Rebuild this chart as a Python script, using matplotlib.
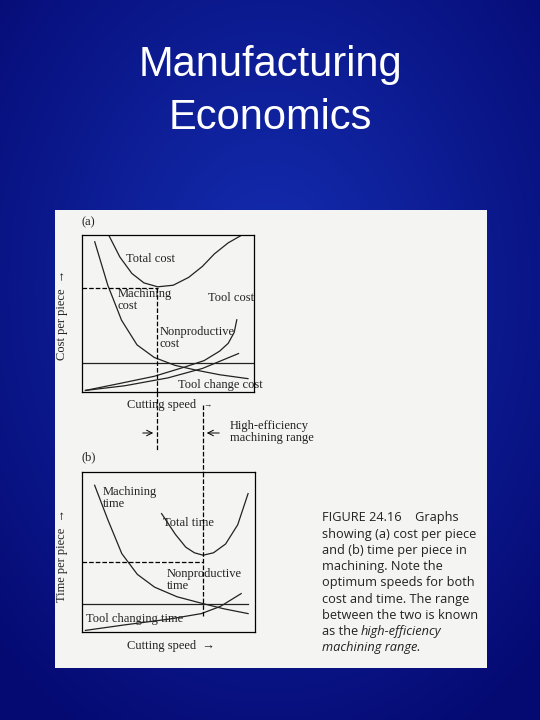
import numpy as np
import matplotlib.pyplot as plt

W, H = 540, 720

# curve samples, axes fraction coords (x, y)
mach_cost = [(.074, .957), (.15, .68), (.23, .457), (.32, .30), (.42, .22), (.54, .17), (.66, .14), (.80, .11), (.965, .085)]
tool_cost = [(.02, .01), (.20, .05), (.42, .10), (.60, .16), (.71, .20), (.80, .26), (.85, .31), (.885, .38), (.90, .46)]
toolchg_cost = [(.02, .01), (.25, .04), (.50, .09), (.70, .15), (.91, .245)]
nonprod_cost = [(0, .187), (1, .187)]
total_cost = [(.155, 1.0), (.22, .86), (.29, .755), (.36, .695), (.44, .67), (.53, .68), (.62, .73), (.70, .80), (.77, .88), (.85, .95), (.93, 1.0)]

mach_time = [(.073, .917), (.15, .70), (.23, .49), (.32, .36), (.42, .28), (.55, .22), (.69, .18), (.82, .145), (.96, .115)]
total_time = [(.46, .74), (.54, .61), (.60, .53), (.65, .495), (.70, .48), (.76, .495), (.83, .55), (.90, .67), (.96, .865)]
nonprod_time = [(0, .177), (.96, .177)]
toolchg_time = [(.02, .01), (.25, .045), (.50, .08), (.69, .115), (.80, .16), (.92, .24)]

fig = plt.figure(figsize=(5.4, 7.2), dpi=100)

# background
bg = fig.add_axes([0, 0, 1, 1])
yy, xx = np.mgrid[0:1:200j, 0:1:200j]
r = np.sqrt((xx - 0.5) ** 2 + (yy - 0.4) ** 2)
grad = np.clip(1 - r * 1.4, 0, 1)
img = np.zeros((200, 200, 3))
img[..., 0] = 0.02 + 0.06 * grad
img[..., 1] = 0.04 + 0.14 * grad
img[..., 2] = 0.45 + 0.25 * grad
bg.imshow(img, extent=[0, W, H, 0], aspect='auto')
bg.set_xlim(0, W)
bg.set_ylim(H, 0)
bg.axis('off')

bg.text(270, 65, "Manufacturing", color='white', fontsize=30, ha='center', va='center', family='Liberation Sans')
bg.text(270, 118, "Economics", color='white', fontsize=30, ha='center', va='center', family='Liberation Sans')

bg.add_patch(plt.Rectangle((55, 210), 432, 458, facecolor='#f4f4f2', edgecolor='none'))

serif = 'Liberation Serif'
def t(x, y, s, size=9, **kw):
    bg.text(x, y, s, fontsize=size, family=serif, color='#222222', va='center', linespacing=1.0, **kw)

t(82, 222, "(a)")
t(82, 457, "(b)")
t(62, 315, "Cost per piece  \u2192", rotation=90, ha='center')
t(62, 555, "Time per piece  \u2192", rotation=90, ha='center')
t(126, 259, "Total cost")
t(118, 300, "Machining\ncost")
t(208, 298, "Tool cost")
t(160, 338, "Nonproductive\ncost")
t(178, 385, "Tool change cost")
t(127, 405, "Cutting speed")
t(203, 405, "\u2192", size=6)
t(230, 432, "High-efficiency\nmachining range")
t(103, 498, "Machining\ntime")
t(163, 523, "Total time")
t(167, 580, "Nonproductive\ntime")
t(86, 619, "Tool changing time")
t(127, 646, "Cutting speed  \u2192")

# dashed guides in figure
bg.plot([157, 157], [392, 450], 'k--', lw=0.9)
bg.plot([203, 203], [405, 472], 'k--', lw=0.9)
bg.annotate('', xy=(156, 433), xytext=(140, 433), arrowprops=dict(arrowstyle='->', lw=0.7))
bg.annotate('', xy=(204, 433), xytext=(222, 433), arrowprops=dict(arrowstyle='->', lw=0.7))

cap = ["FIGURE 24.16    Graphs", "showing (a) cost per piece", "and (b) time per piece in",
       "machining. Note the", "optimum speeds for both", "cost and time. The range",
       "between the two is known"]
cs = 9.2
for i, line in enumerate(cap):
    bg.text(322, 518 + i * 16.2, line, fontsize=cs, family='Open Sans', color='#222222', va='center')
bg.text(322, 518 + 7 * 16.2, "as the", fontsize=cs, family='Open Sans', color='#222222', va='center')
bg.text(361, 518 + 7 * 16.2, "high-efficiency", fontsize=cs, family='Open Sans', style='italic', color='#222222', va='center')
bg.text(322, 518 + 8 * 16.2, "machining range.", fontsize=cs, family='Open Sans', style='italic', color='#222222', va='center')

def axes_px(x0, y0, x1, y1):
    a = fig.add_axes([x0 / W, 1 - y1 / H, (x1 - x0) / W, (y1 - y0) / H])
    a.set_xlim(0, 1)
    a.set_ylim(0, 1)
    a.set_xticks([])
    a.set_yticks([])
    a.patch.set_alpha(0)
    for s in a.spines.values():
        s.set_linewidth(0.9)
    return a

def curve(a, pts, **kw):
    p = np.array(pts)
    a.plot(p[:, 0], p[:, 1], color='#222222', lw=0.9, **kw)

ax1 = axes_px(82, 235, 254, 392)
for c in [mach_cost, tool_cost, toolchg_cost, nonprod_cost, total_cost]:
    curve(ax1, c)
ax1.plot([0, .44], [.664, .664], 'k--', lw=0.9)
ax1.plot([.434, .434], [0, .664], 'k--', lw=0.9)

ax2 = axes_px(82, 472, 255, 632)
for c in [mach_time, total_time, nonprod_time, toolchg_time]:
    curve(ax2, c)
ax2.plot([0, .70], [.4375, .4375], 'k--', lw=0.9)
ax2.plot([.70, .70], [.10, 1.0], 'k--', lw=0.9)

fig.savefig('out.png', dpi=100)
